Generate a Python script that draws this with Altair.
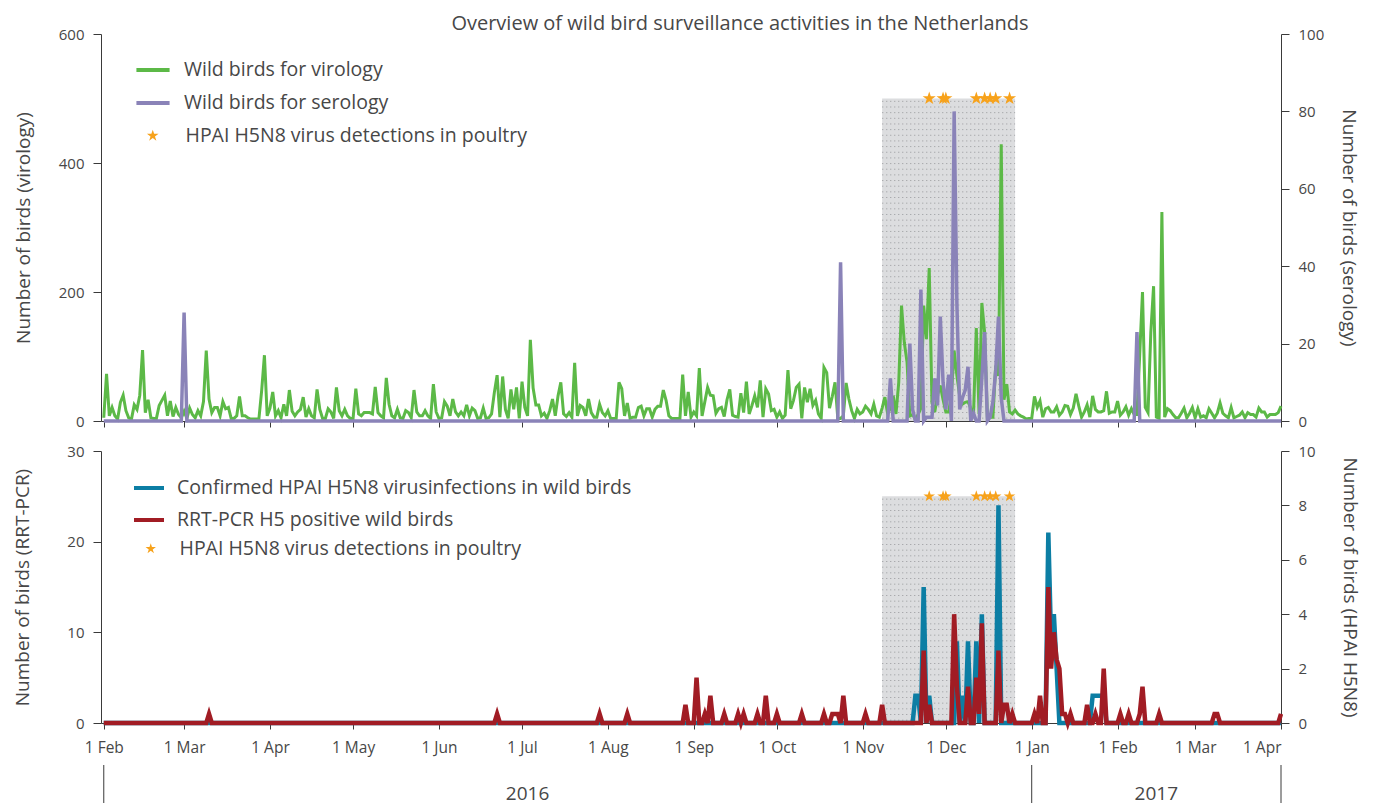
import altair as alt
import pandas as pd

# ---------------- data ----------------
DOMAIN_START = "2016-01-31"
DATE_START = "2016-02-01"
DATE_END = "2017-04-01"

# daily number of wild birds sampled for virology (left axis, top panel)
virology_2016_02 = [5, 73, 8, 21, 8, 3, 29, 40, 16, 5, 3, 25, 18, 40, 110, 13, 33, 5, 4, 4, 24, 32, 40, 8, 31, 7, 21, 10, 5]
virology_2016_03 = [15, 4, 20, 10, 5, 16, 8, 30, 109, 34, 13, 21, 21, 8, 30, 19, 21, 4, 4, 8, 38, 8, 8, 5, 3, 3, 3, 3, 47, 102, 8]
virology_2016_04 = [20, 45, 8, 16, 5, 26, 8, 48, 15, 8, 14, 18, 37, 6, 19, 8, 5, 49, 18, 4, 4, 19, 14, 4, 52, 16, 8, 18, 8, 4]
virology_2016_05 = [4, 50, 11, 8, 13, 13, 13, 11, 53, 13, 8, 5, 67, 26, 8, 5, 18, 5, 4, 16, 13, 5, 48, 14, 8, 8, 16, 8, 4, 57, 14]
virology_2016_06 = [4, 5, 30, 23, 8, 34, 14, 8, 14, 8, 25, 8, 20, 16, 4, 5, 20, 4, 5, 11, 44, 71, 6, 69, 18, 4, 49, 18, 52, 4]
virology_2016_07 = [61, 21, 8, 126, 51, 25, 25, 8, 12, 4, 16, 34, 8, 39, 60, 11, 7, 13, 6, 90, 8, 24, 21, 8, 34, 13, 6, 6, 26, 13, 8]
virology_2016_08 = [16, 4, 4, 4, 60, 50, 8, 28, 4, 6, 6, 21, 23, 8, 19, 19, 6, 18, 23, 23, 48, 32, 8, 4, 4, 4, 4, 72, 8, 45, 6]
virology_2016_09 = [14, 8, 82, 8, 30, 52, 40, 39, 12, 19, 21, 7, 33, 49, 9, 7, 6, 43, 13, 61, 11, 24, 39, 21, 63, 6, 50, 42, 16, 18]
virology_2016_10 = [6, 14, 4, 9, 79, 19, 32, 52, 57, 4, 52, 29, 50, 24, 32, 11, 4, 83, 75, 20, 38, 60, 4, 4, 8, 59, 34, 16, 4, 18, 11]
virology_2016_11 = [14, 23, 18, 11, 26, 8, 6, 20, 37, 11, 20, 39, 11, 60, 179, 122, 91, 8, 10, 3, 10, 20, 179, 127, 237, 28, 14, 40, 55, 33]
virology_2016_12 = [14, 14, 40, 109, 70, 39, 26, 29, 30, 20, 11, 144, 11, 183, 138, 6, 6, 6, 86, 70, 429, 33, 57, 14, 11, 17, 11, 8, 6, 3, 4]
virology_2017_01 = [4, 38, 21, 31, 6, 19, 21, 14, 14, 22, 9, 14, 24, 23, 10, 20, 42, 23, 6, 14, 25, 6, 39, 18, 14, 14, 16, 46, 12, 14, 14]
virology_2017_02 = [31, 9, 14, 22, 9, 19, 10, 10, 104, 200, 21, 13, 137, 209, 6, 4, 324, 6, 19, 16, 10, 5, 5, 12, 20, 5, 12, 21]
virology_2017_03 = [5, 19, 6, 8, 5, 19, 12, 5, 12, 28, 12, 8, 5, 21, 5, 7, 9, 14, 5, 13, 10, 10, 6, 20, 14, 14, 6, 10, 10, 10, 13]
virology_2017_04 = [23]

# wild birds for serology (right axis, top panel); all other days are 0
serology_dates = ["2016-03-01", "2016-10-24", "2016-11-11", "2016-11-18", "2016-11-19", "2016-11-22",
                  "2016-11-24", "2016-11-25", "2016-11-26", "2016-11-27", "2016-11-28", "2016-11-29",
                  "2016-11-30", "2016-12-01", "2016-12-02", "2016-12-04", "2016-12-05", "2016-12-06",
                  "2016-12-07", "2016-12-08", "2016-12-09", "2016-12-11", "2016-12-14", "2016-12-15",
                  "2016-12-17", "2016-12-18", "2016-12-19", "2016-12-20", "2016-12-21", "2017-02-08"]
serology_values = [28, 41, 11, 20, 3, 34, 1, 1, 1, 11, 4, 27, 10, 3, 12, 80, 30, 3, 6, 8,
                   14, 2, 11, 23, 1, 5, 13, 27, 6, 23]

# RRT-PCR H5 positive wild birds (left axis, bottom panel); other days 0
rrtpcr_dates = ["2016-03-10", "2016-06-22", "2016-07-29", "2016-08-08", "2016-08-29", "2016-09-02",
                "2016-09-05", "2016-09-07", "2016-09-12", "2016-09-17", "2016-09-19", "2016-09-24",
                "2016-09-27", "2016-10-01", "2016-10-10", "2016-10-18", "2016-10-21", "2016-10-22",
                "2016-10-23", "2016-10-25", "2016-11-02", "2016-11-08", "2016-11-23", "2016-11-25",
                "2016-12-04", "2016-12-05", "2016-12-09", "2016-12-12", "2016-12-13", "2016-12-14",
                "2016-12-20", "2016-12-22", "2016-12-23", "2016-12-25", "2017-01-02", "2017-01-04",
                "2017-01-07", "2017-01-08", "2017-01-09", "2017-01-10", "2017-01-11", "2017-01-12",
                "2017-01-13", "2017-01-15", "2017-01-21", "2017-01-24", "2017-01-27", "2017-02-02",
                "2017-02-05", "2017-02-09", "2017-02-10", "2017-02-16", "2017-03-08", "2017-03-09",
                "2017-04-01"]
rrtpcr_values = [1, 1, 1, 1, 2, 5, 1, 3, 1, 1, 1, 1, 3, 1, 1, 1, 1, 1, 1, 3,
                 1, 2, 8, 2, 12, 4, 4, 5, 1, 11, 8, 2, 2, 1, 1, 3, 15, 6, 10, 7,
                 6, 1, 1, 1, 2, 1, 6, 1, 1, 1, 4, 1, 1, 1, 1]

# confirmed HPAI H5N8 virus infections in wild birds (right axis, bottom panel); other days 0
confirmed_dates = ["2016-11-20", "2016-11-21", "2016-11-23", "2016-11-25", "2016-12-05", "2016-12-07",
                   "2016-12-09", "2016-12-12", "2016-12-14", "2016-12-20", "2017-01-07", "2017-01-08",
                   "2017-01-09", "2017-01-10", "2017-01-23", "2017-01-24", "2017-01-25", "2017-01-26",
                   "2017-01-27"]
confirmed_values = [1, 1, 5, 1, 3, 1, 3, 3, 4, 8, 7, 3, 4, 2, 1, 1, 1, 1, 1]

# HPAI H5N8 detections in poultry (stars)
poultry_dates = ["2016-11-25", "2016-11-30", "2016-12-01", "2016-12-12", "2016-12-15",
                 "2016-12-17", "2016-12-19", "2016-12-24"]
star_level_top = 500
star_level_bottom = 25

# shaded period
shade_start = "2016-11-08"
shade_end = "2016-12-26"
shade_top_virology = 500
shade_top_rrtpcr = 25

month_ticks = ["2016-02-01", "2016-03-01", "2016-04-01", "2016-05-01", "2016-06-01", "2016-07-01",
               "2016-08-01", "2016-09-01", "2016-10-01", "2016-11-01", "2016-12-01", "2017-01-01",
               "2017-02-01", "2017-03-01", "2017-04-01"]
year_labels = ["2016", "2017"]
year_label_dates = ["2016-07-03", "2017-02-15"]
year_bounds = ["2016-02-01", "2017-01-01", "2017-04-01"]

VIR = "Wild birds for virology"
SERO = "Wild birds for serology"
CONF = "Confirmed HPAI H5N8 virusinfections in wild birds"
RRT = "RRT-PCR H5 positive wild birds"
POULTRY = "HPAI H5N8 virus detections in poultry"
TITLE = "Overview of wild bird surveillance activities in the Netherlands"

# ---------------- tables ----------------
days = pd.date_range(DATE_START, DATE_END, freq="D").strftime("%Y-%m-%d").tolist()
virology = (virology_2016_02 + virology_2016_03 + virology_2016_04 + virology_2016_05 +
            virology_2016_06 + virology_2016_07 + virology_2016_08 + virology_2016_09 +
            virology_2016_10 + virology_2016_11 + virology_2016_12 + virology_2017_01 +
            virology_2017_02 + virology_2017_03 + virology_2017_04)
if len(virology) != len(days):
    raise ValueError(f"virology has {len(virology)} values for {len(days)} days")


def daily(dates, values):
    lookup = dict(zip(dates, values))
    return [lookup.get(d, 0) for d in days]


df_vir = pd.DataFrame({"date": days, "value": virology, "series": VIR})
df_sero = pd.DataFrame({"date": days, "value": daily(serology_dates, serology_values), "series": SERO})
df_conf = pd.DataFrame({"date": days, "value": daily(confirmed_dates, confirmed_values), "series": CONF})
df_rrt = pd.DataFrame({"date": days, "value": daily(rrtpcr_dates, rrtpcr_values), "series": RRT})
df_star_top = pd.DataFrame({"date": poultry_dates, "level": star_level_top, "label": POULTRY})
df_star_bot = pd.DataFrame({"date": poultry_dates, "level": star_level_bottom, "label": POULTRY})
df_shade_top = pd.DataFrame({"start": [shade_start], "end": [shade_end], "lo": [0], "hi": [shade_top_virology]})
df_shade_bot = pd.DataFrame({"start": [shade_start], "end": [shade_end], "lo": [0], "hi": [shade_top_rrtpcr]})
df_year_bounds = pd.DataFrame({"date": year_bounds})
df_year_labels = pd.DataFrame({"date": year_label_dates, "label": year_labels})

# dotted texture rows of the shaded period (decoration only)
TEXTURE_ROWS = 57
df_tex_top = pd.DataFrame({"start": shade_start, "end": shade_end,
                           "row": [shade_top_virology * (i + 0.5) / TEXTURE_ROWS for i in range(TEXTURE_ROWS)]})
df_tex_bot = pd.DataFrame({"start": shade_start, "end": shade_end,
                           "row": [shade_top_rrtpcr * (i + 0.5) / 40 for i in range(40)]})

# ---------------- style ----------------
FONT = "Open Sans"
TEXT = "#474747"
AX = "#3a3a3a"
GREEN = "#5cb947"
PURPLE = "#8a83b8"
BLUE = "#0c7ea4"
RED = "#a11c24"
ORANGE = "#f7a21b"
SHADE = "#dcdddf"
DOT = "#a2a3a6"
STAR = ("M0,-1L0.2245,-0.309L0.9511,-0.309L0.3633,0.118L0.5878,0.809L0,0.382"
        "L-0.5878,0.809L-0.3633,0.118L-0.9511,-0.309L-0.2245,-0.309Z")

W, H_TOP, H_BOT = 1180, 387, 272


def dt(s):
    y, m, d = (int(p) for p in s.split("-"))
    return alt.DateTime(year=y, month=m, date=d, utc=True)


x_scale = alt.Scale(type="utc", domain=[dt(DOMAIN_START), dt(DATE_END)])
tick_values = [dt(s) for s in month_ticks]
common = dict(domainColor=AX, tickColor=AX, domainWidth=1, tickWidth=1, grid=False,
              labelFont=FONT, labelColor=TEXT, titleFont=FONT, titleColor=TEXT)

x_axis_top = alt.Axis(values=tick_values, labels=False, title=None, tickSize=6, **common)
x_axis_bot = alt.Axis(values=tick_values, title=None, tickSize=6, labelFontSize=15.5, labelPadding=11,
                      labelExpr="utcFormat(datum.value, '%-d %b')", **common)


def y_axis(orient, values, title, pad):
    return alt.Axis(orient=orient, values=values, title=title, tickSize=8, labelFontSize=15,
                    labelPadding=9, titleFontSize=19, titleFontWeight="normal", titlePadding=pad,
                    **common)


def xe(field, axis):
    return alt.X(f"{field}:T", scale=x_scale, axis=axis)


def line_legend(x, y, size, offset, rowpad):
    return alt.Legend(orient="none", legendX=x, legendY=y, title=None, symbolType="stroke",
                      symbolSize=size, symbolStrokeWidth=4, labelFont=FONT, labelFontSize=19.5,
                      labelColor=TEXT, labelOffset=offset, rowPadding=rowpad, padding=0, labelLimit=0)


def star_legend(x, y, size, offset):
    return alt.Legend(orient="none", legendX=x, legendY=y, title=None, symbolSize=size,
                      symbolFillColor=ORANGE, symbolStrokeWidth=0, labelFont=FONT,
                      labelFontSize=19.5, labelColor=TEXT, labelOffset=offset, padding=0,
                      labelLimit=0)


# ---------------- top panel ----------------
color_top = alt.Scale(domain=[VIR, SERO], range=[GREEN, PURPLE])
leg_top = line_legend(33, 17, 1100, 12, 4)

shade_t = alt.Chart(df_shade_top).mark_rect(color=SHADE).encode(
    x=xe("start", x_axis_top), x2="end:T",
    y=alt.Y("lo:Q", scale=alt.Scale(domain=[0, 600]), axis=None), y2="hi:Q")

tex_t = alt.Chart(df_tex_top).mark_rule(color=DOT, strokeWidth=1, strokeDash=[1.2, 2.8]).encode(
    x=xe("start", x_axis_top), x2="end:T",
    y=alt.Y("row:Q", scale=alt.Scale(domain=[0, 600]), axis=None))

vir_line = alt.Chart(df_vir).mark_line(strokeWidth=3).encode(
    x=xe("date", x_axis_top),
    y=alt.Y("value:Q", scale=alt.Scale(domain=[0, 600]),
            axis=y_axis("left", [0, 200, 400, 600], "Number of birds (virology)", 25)),
    color=alt.Color("series:N", scale=color_top, legend=leg_top))

sero_line = alt.Chart(df_sero).mark_line(strokeWidth=3.5).encode(
    x=xe("date", x_axis_top),
    y=alt.Y("value:Q", scale=alt.Scale(domain=[0, 100]),
            axis=y_axis("right", [0, 20, 40, 60, 80, 100], "Number of birds (serology)", 15)),
    color=alt.Color("series:N", scale=color_top, legend=leg_top))

stars_t = alt.Chart(df_star_top).mark_point(filled=True, size=190, opacity=1, color=ORANGE,
                                            strokeWidth=0).encode(
    x=xe("date", x_axis_top),
    y=alt.Y("level:Q", scale=alt.Scale(domain=[0, 600]), axis=None),
    shape=alt.Shape("label:N", scale=alt.Scale(domain=[POULTRY], range=[STAR]),
                    legend=star_legend(42, 92, 150, 23)))

top = alt.layer(shade_t, tex_t, vir_line, sero_line, stars_t).resolve_scale(y="independent").properties(
    width=W, height=H_TOP)

# ---------------- bottom panel ----------------
color_bot = alt.Scale(domain=[CONF, RRT], range=[BLUE, RED])
leg_bot = line_legend(31, 20, 900, 11, 5)

shade_b = alt.Chart(df_shade_bot).mark_rect(color=SHADE).encode(
    x=xe("start", x_axis_bot), x2="end:T",
    y=alt.Y("lo:Q", scale=alt.Scale(domain=[0, 30]), axis=None), y2="hi:Q")

tex_b = alt.Chart(df_tex_bot).mark_rule(color=DOT, strokeWidth=1, strokeDash=[1.2, 2.8]).encode(
    x=xe("start", x_axis_bot), x2="end:T",
    y=alt.Y("row:Q", scale=alt.Scale(domain=[0, 30]), axis=None))

conf_line = alt.Chart(df_conf).mark_line(strokeWidth=4.5).encode(
    x=xe("date", x_axis_bot),
    y=alt.Y("value:Q", scale=alt.Scale(domain=[0, 10]),
            axis=y_axis("right", [0, 2, 4, 6, 8, 10], "Number of birds (HPAI H5N8)", 24)),
    color=alt.Color("series:N", scale=color_bot, legend=leg_bot))

rrt_line = alt.Chart(df_rrt).mark_line(strokeWidth=4.5).encode(
    x=xe("date", x_axis_bot),
    y=alt.Y("value:Q", scale=alt.Scale(domain=[0, 30]),
            axis=y_axis("left", [0, 10, 20, 30], "Number of birds (RRT-PCR)", 34)),
    color=alt.Color("series:N", scale=color_bot, legend=leg_bot))

stars_b = alt.Chart(df_star_bot).mark_point(filled=True, size=150, opacity=1, color=ORANGE,
                                            strokeWidth=0).encode(
    x=xe("date", x_axis_bot),
    y=alt.Y("level:Q", scale=alt.Scale(domain=[0, 30]), axis=None),
    shape=alt.Shape("label:N", scale=alt.Scale(domain=[POULTRY], range=[STAR]),
                    legend=star_legend(40, 88, 120, 19)))

year_rules = alt.Chart(df_year_bounds).mark_rule(color=AX, strokeWidth=1).encode(
    x=xe("date", x_axis_bot), y=alt.value(314), y2=alt.value(352))

year_text = alt.Chart(df_year_labels).mark_text(font=FONT, fontSize=19, color=TEXT,
                                                baseline="alphabetic").encode(
    x=xe("date", x_axis_bot), y=alt.value(349), text="label:N")

bottom = alt.layer(shade_b, tex_b, conf_line, rrt_line, stars_b, year_rules, year_text).resolve_scale(
    y="independent").properties(width=W, height=H_BOT)

chart = alt.vconcat(top, bottom, spacing=15).resolve_scale(
    color="independent", shape="independent"
).properties(
    title=alt.TitleParams(text=TITLE, font=FONT, fontSize=20, fontWeight="normal", color=TEXT,
                          anchor="middle", dx=54, offset=-7),
    padding={"left": 5, "right": 5, "top": 6, "bottom": 6},
).configure_view(strokeWidth=0)

chart.save("out.html", embed_options={"renderer": "svg", "actions": False})
